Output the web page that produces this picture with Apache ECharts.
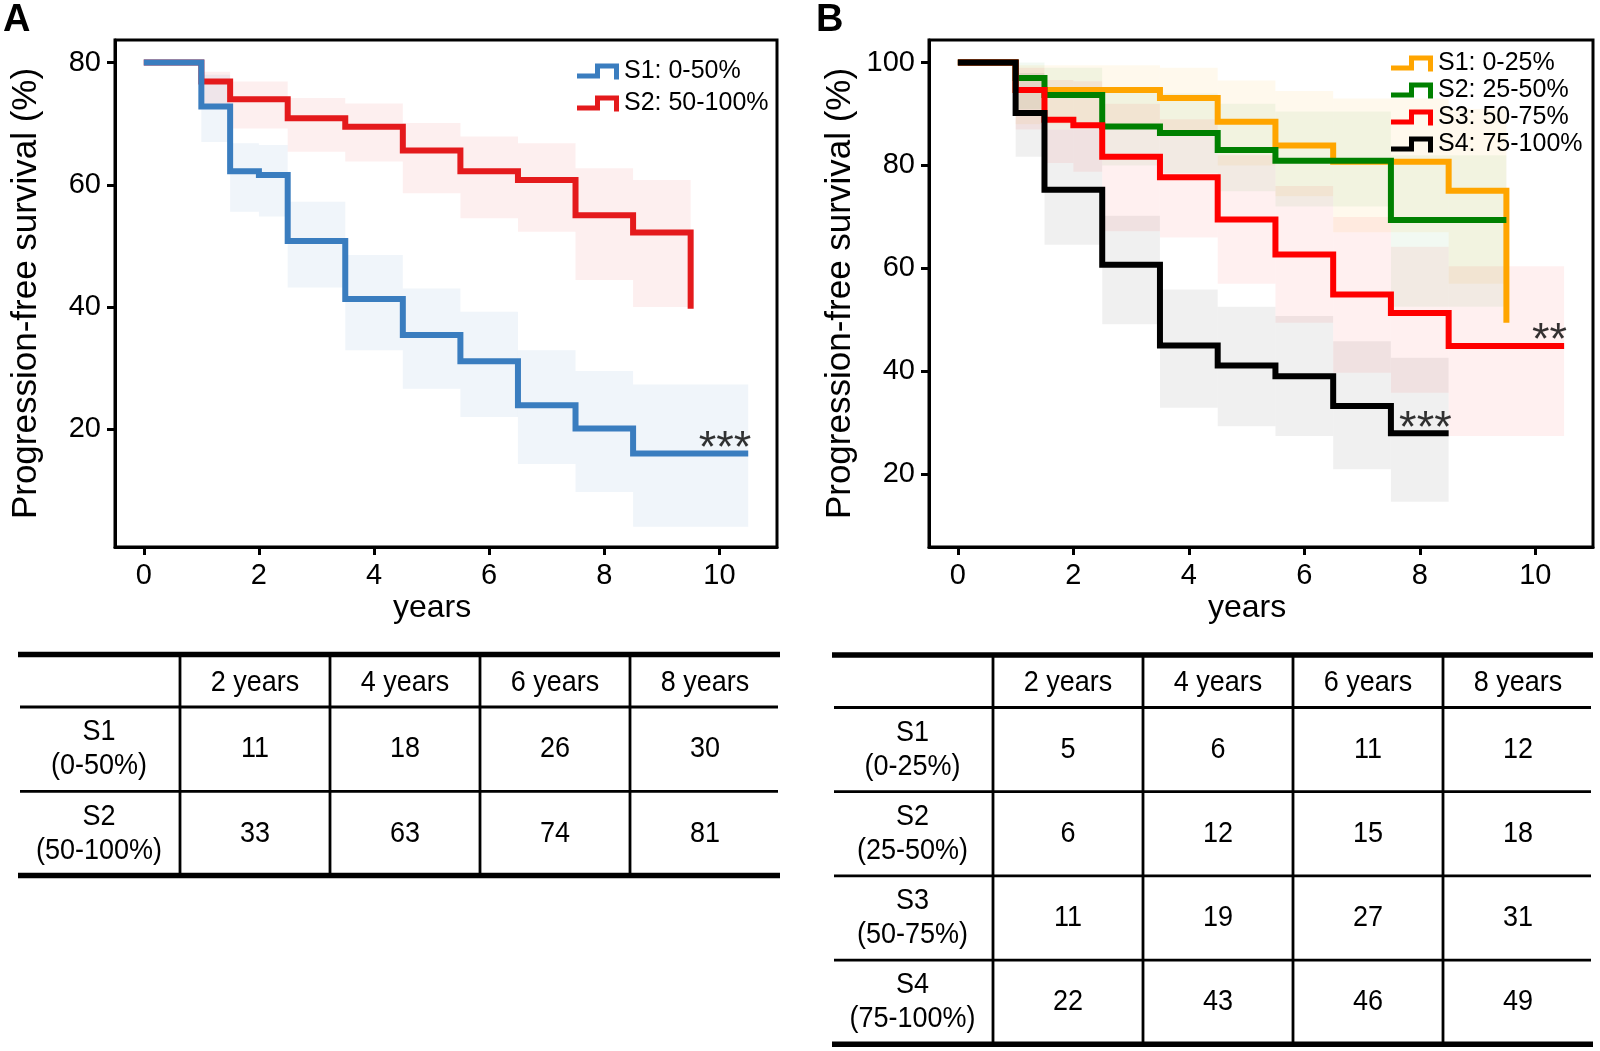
<!DOCTYPE html>
<html>
<head>
<meta charset="utf-8">
<script src="https://cdn.jsdelivr.net/npm/echarts@6/dist/echarts.min.js"></script>
<style>
html,body{margin:0;padding:0;background:#fff;}
#main{width:1600px;height:1051px;}
</style>
</head>
<body>
<div id="main"></div>
<script>
// ---------------- Panel A data ----------------
const namesA = ['S1: 0-50%', 'S2: 50-100%'];
const timesA1 = [0, 1, 1.5, 2, 2.5, 3.5, 4.5, 5.5, 6.5, 7.5, 8.5, 10.5];
const survA1  = [80, 72.8, 62.2, 61.6, 50.8, 41.3, 35.4, 31.1, 23.9, 20.1, 16.0, 16.0];
const lowA1   = [67.0, 55.6, 54.8, 43.2, 32.9, 26.6, 22.0, 14.3, 9.7, 4.0];
const highA1  = [78.0, 66.8, 66.5, 57.2, 48.5, 43.0, 39.2, 32.9, 29.5, 27.3];
const timesA2 = [0, 1, 1.5, 2.5, 3.5, 4.5, 5.5, 6.5, 7.5, 8.5, 9.5];
const survA2  = [80, 76.9, 74.0, 70.9, 69.5, 65.6, 62.2, 60.8, 55.0, 52.2, 39.7];
const lowA2   = [72.5, 69.2, 65.4, 63.8, 58.6, 54.5, 52.3, 44.4, 40.0];
const highA2  = [78.5, 76.9, 74.2, 73.3, 70.1, 67.9, 66.8, 62.7, 60.8];
const xTicks = [0, 2, 4, 6, 8, 10];
const yTicksA = [20, 40, 60, 80];

// ---------------- Panel B data ----------------
const namesB = ['S1: 0-25%', 'S2: 25-50%', 'S3: 50-75%', 'S4: 75-100%'];
const timesB1 = [0, 1, 3.5, 4.5, 5.5, 6.5, 8.5, 9.5];
const survB1  = [100, 94.7, 93.1, 88.5, 83.9, 80.7, 75.1, 49.4];
const lowB1   = [88, 86, 80, 74, 67, 57];
const highB1  = [99.5, 99, 96.5, 94.5, 93, 91];
const timesB2 = [0, 1, 1.5, 2.5, 3.5, 4.5, 5.5, 7.5, 9.5];
const survB2  = [100, 97.0, 93.7, 87.6, 86.3, 83.0, 80.9, 69.4, 69.4];
const lowB2   = [91, 87, 80, 78.5, 75, 72, 52.5];
const highB2  = [100, 99, 95, 94, 92, 90.5, 82];
const timesB3 = [0, 1, 1.5, 2, 2.5, 3.5, 4.5, 5.5, 6.5, 7.5, 8.5, 10.5];
const survB3  = [100, 94.7, 88.9, 87.8, 81.7, 77.7, 69.5, 62.7, 54.9, 51.3, 44.9, 44.9];
const lowB3   = [87, 80.5, 78.8, 67.2, 66, 57, 49.4, 39.7, 35.8, 27.4];
const highB3  = [99, 96.6, 96.4, 92, 89, 82, 76, 70, 64.2, 60.4];
const timesB4 = [0, 1, 1.5, 2.5, 3.5, 4.5, 5.5, 6.5, 7.5, 8.5];
const survB4  = [100, 90.2, 75.3, 60.7, 45.0, 41.1, 39.0, 33.2, 27.9, 27.9];
const lowB4   = [81.7, 64.6, 49.1, 32.9, 29.3, 27.4, 20.9, 14.6];
const highB4  = [98, 87, 70.2, 55.9, 52.5, 50.7, 45.8, 42.6];
const yTicksB = [20, 40, 60, 80, 100];

// ---------------- Tables ----------------
const tableCols = ['2 years', '4 years', '6 years', '8 years'];
const tableRowsA = ['S1\n(0-50%)', 'S2\n(50-100%)'];
const tableValsA = [[11, 18, 26, 30], [33, 63, 74, 81]];
const tableRowsB = ['S1\n(0-25%)', 'S2\n(25-50%)', 'S3\n(50-75%)', 'S4\n(75-100%)'];
const tableValsB = [[5, 6, 11, 12], [6, 12, 15, 18], [11, 19, 27, 31], [22, 43, 46, 49]];

// significance marks
const starsA1 = '***', starsB3 = '**', starsB4 = '***';

const FONT = "'Liberation Sans', Arial, Helvetica, sans-serif";
const STEP_ICON = 'path://M0,10L18,10L18,0L42,0L42,16L37,16L37,5L23,5L23,15L0,15Z';

function xAxisDef(gi) {
  return {
    type: 'value', gridIndex: gi, min: -0.5, max: 11,
    splitLine: {show: false},
    axisLine: {show: true, onZero: false, lineStyle: {color: '#000', width: 3}},
    axisTick: {show: true, customValues: xTicks, length: 8, lineStyle: {color: '#000', width: 3}},
    axisLabel: {customValues: xTicks, fontSize: 29, color: '#000', fontFamily: FONT, margin: 14},
    name: 'years', nameLocation: 'middle', nameGap: 45,
    nameTextStyle: {fontSize: 32, color: '#000', fontFamily: FONT, padding: [0, 28, 0, 0]}
  };
}
function yAxisDef(gi, min, max, ticks) {
  return {
    type: 'value', gridIndex: gi, min: min, max: max,
    splitLine: {show: false},
    axisLine: {show: true, onZero: false, lineStyle: {color: '#000', width: 3}},
    axisTick: {show: true, customValues: ticks, length: 8, lineStyle: {color: '#000', width: 3}},
    axisLabel: {customValues: ticks, fontSize: 29, color: '#000', fontFamily: FONT, margin: 14},
    name: 'Progression-free survival (%)', nameLocation: 'middle', nameGap: 71, nameRotate: 90,
    nameTextStyle: {fontSize: 35, color: '#000', fontFamily: FONT}
  };
}
function lineSeries(name, gi, times, surv, color, z) {
  return {
    type: 'line', name: name, xAxisIndex: gi, yAxisIndex: gi, step: 'end', symbol: 'none',
    data: times.map((t, i) => [t, surv[i]]),
    lineStyle: {color: color, width: 6, join: 'miter', cap: 'butt'},
    itemStyle: {color: color}, z: z, silent: true
  };
}
function bandSeries(gi, times, lows, highs, color) {
  const data = lows.map((lo, i) => [times[i + 1], times[i + 2], lo, highs[i]]);
  return {
    type: 'custom', name: 'band', xAxisIndex: gi, yAxisIndex: gi, silent: true, z: 1,
    data: data, encode: {x: [0, 1], y: [2, 3]},
    renderItem: function (params, api) {
      const p1 = api.coord([api.value(0), api.value(3)]);
      const p2 = api.coord([api.value(1), api.value(2)]);
      return {type: 'rect', shape: {x: p1[0], y: p1[1], width: p2[0] - p1[0], height: p2[1] - p1[1]},
              style: {fill: color}};
    }
  };
}
function starSeries(gi, times, surv, text) {
  const n = times.length - 1;
  return {
    type: 'scatter', name: 'stars', xAxisIndex: gi, yAxisIndex: gi, silent: true, z: 6,
    data: [[times[n], surv[n]]], symbolSize: 1, itemStyle: {color: 'rgba(0,0,0,0)'},
    label: {show: true, formatter: text, position: 'inside', align: 'right', verticalAlign: 'middle',
            offset: [3, -4], fontSize: 45, color: '#000', fontFamily: FONT}
  };
}

// table builder (layout only)
function buildTable(x0, colW0, colW, yTop, headH, rowH, rows, vals) {
  const els = [];
  const nCols = tableCols.length;
  const x1 = x0 + colW0 + colW * nCols;
  const yBottom = yTop + headH + rowH * rows.length;
  const txt = (x, y, s, lh) => ({type: 'text', x: x, y: y, scaleY: 1.1,
      style: {text: s, fontSize: 27, lineHeight: lh || 27, fontFamily: FONT, fill: '#000', align: 'center', verticalAlign: 'middle'}});
  els.push({type: 'line', shape: {x1: x0, y1: yTop, x2: x1, y2: yTop}, style: {stroke: '#000', lineWidth: 5.5}});
  els.push({type: 'line', shape: {x1: x0, y1: yBottom, x2: x1, y2: yBottom}, style: {stroke: '#000', lineWidth: 5.5}});
  for (let r = 0; r < rows.length; r++) {
    const y = yTop + headH + rowH * r;
    els.push({type: 'line', shape: {x1: x0 + 2, y1: y, x2: x1 - 2, y2: y}, style: {stroke: '#000', lineWidth: 2.8}});
  }
  for (let c = 0; c < nCols; c++) {
    const x = x0 + colW0 + colW * c;
    els.push({type: 'line', shape: {x1: x, y1: yTop, x2: x, y2: yBottom}, style: {stroke: '#000', lineWidth: 2.8}});
    els.push(txt(x + colW / 2, yTop + headH / 2 + 2, tableCols[c]));
  }
  for (let r = 0; r < rows.length; r++) {
    const yc = yTop + headH + rowH * r + rowH / 2;
    els.push(txt(x0 + colW0 / 2, yc, rows[r], 31));
    for (let c = 0; c < nCols; c++) {
      els.push(txt(x0 + colW0 + colW * c + colW / 2, yc, String(vals[r][c])));
    }
  }
  return els;
}

const graphics = [].concat(
  [{type: 'text', x: 3, y: 2, style: {text: 'A', fontSize: 38, fontWeight: 'bold', fontFamily: FONT, fill: '#000'}},
   {type: 'text', x: 816, y: 2, style: {text: 'B', fontSize: 38, fontWeight: 'bold', fontFamily: FONT, fill: '#000'}}],
  buildTable(18, 162, 150, 654.5, 52.5, 84.3, tableRowsA, tableValsA),
  buildTable(832, 161, 150, 655, 52.5, 84.2, tableRowsB, tableValsB)
);

const chart = echarts.init(document.getElementById('main'), null, {renderer: 'canvas'});
const option = {
  animation: false,
  backgroundColor: '#fff',
  grid: [
    {left: 115, top: 40, width: 662, height: 507, show: true, borderColor: '#000', borderWidth: 3, backgroundColor: 'rgba(0,0,0,0)'},
    {left: 929, top: 40, width: 664, height: 507, show: true, borderColor: '#000', borderWidth: 3, backgroundColor: 'rgba(0,0,0,0)'}
  ],
  xAxis: [xAxisDef(0), xAxisDef(1)],
  yAxis: [yAxisDef(0, 0.7, 83.7, yTicksA), yAxisDef(1, 5.8, 104.4, yTicksB)],
  legend: [
    {orient: 'vertical', left: 572, top: 54, itemWidth: 42, itemHeight: 16, itemGap: 7, icon: STEP_ICON,
     data: namesA, selectedMode: false, itemStyle: {borderWidth: 0},
     textStyle: {fontSize: 25, color: '#000', fontFamily: FONT}},
    {orient: 'vertical', left: 1386, top: 46, itemWidth: 42, itemHeight: 16, itemGap: 2, icon: STEP_ICON,
     data: namesB, selectedMode: false, itemStyle: {borderWidth: 0},
     textStyle: {fontSize: 25, color: '#000', fontFamily: FONT}}
  ],
  series: [
    bandSeries(0, timesA1, lowA1, highA1, 'rgba(58,125,191,0.08)'),
    bandSeries(0, timesA2, lowA2, highA2, 'rgba(228,26,28,0.07)'),
    lineSeries(namesA[1], 0, timesA2, survA2, '#e41a1c', 3),
    lineSeries(namesA[0], 0, timesA1, survA1, '#3a7dbf', 4),
    starSeries(0, timesA1, survA1, starsA1),

    bandSeries(1, timesB1, lowB1, highB1, 'rgba(255,165,0,0.07)'),
    bandSeries(1, timesB2, lowB2, highB2, 'rgba(0,128,0,0.05)'),
    bandSeries(1, timesB3, lowB3, highB3, 'rgba(255,0,0,0.06)'),
    bandSeries(1, timesB4, lowB4, highB4, 'rgba(0,0,0,0.06)'),
    lineSeries(namesB[0], 1, timesB1, survB1, '#ffa500', 3),
    lineSeries(namesB[1], 1, timesB2, survB2, '#008000', 3),
    lineSeries(namesB[2], 1, timesB3, survB3, '#ff0000', 3),
    lineSeries(namesB[3], 1, timesB4, survB4, '#000000', 3),
    starSeries(1, timesB3, survB3, starsB3),
    starSeries(1, timesB4, survB4, starsB4)
  ],
  graphic: graphics
};
chart.setOption(option);
</script>
</body>
</html>
